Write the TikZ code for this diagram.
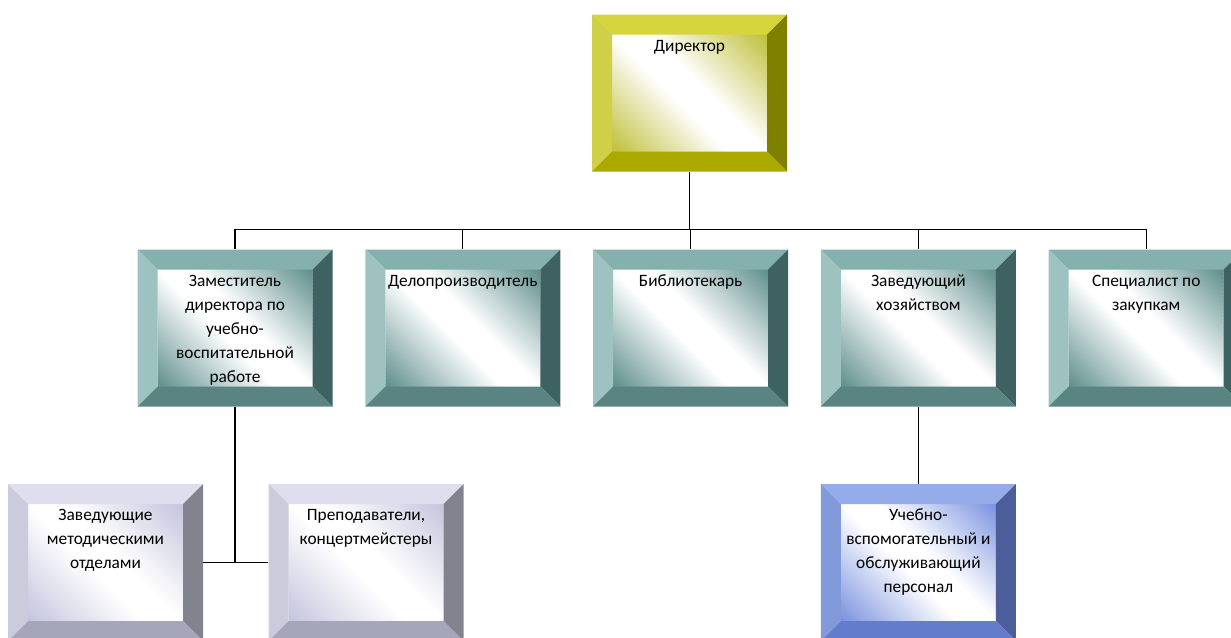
\documentclass[tikz,border=0pt]{standalone}
\usepackage{fontspec}
\setmainfont{Carlito}
\usetikzlibrary{positioning}

\definecolor{dirtop}{HTML}{D6D63C}
\definecolor{dirleft}{HTML}{CFCF48}
\definecolor{dirright}{HTML}{7F7F00}
\definecolor{dirbottom}{HTML}{A9A900}
\definecolor{dirtint}{HTML}{BFBF3A}
\definecolor{tealtop}{HTML}{84B0AE}
\definecolor{tealleft}{HTML}{9DC2C0}
\definecolor{tealright}{HTML}{3E6262}
\definecolor{tealbottom}{HTML}{5A8482}
\definecolor{tealtint}{HTML}{5E8E8C}
\definecolor{graytop}{HTML}{DEDEEE}
\definecolor{grayleft}{HTML}{CBCBDC}
\definecolor{grayright}{HTML}{83838F}
\definecolor{graybottom}{HTML}{A6A6BA}
\definecolor{graytint}{HTML}{C4C4DE}
\definecolor{bluetop}{HTML}{94ACEA}
\definecolor{blueleft}{HTML}{8299DA}
\definecolor{blueright}{HTML}{4B5E9A}
\definecolor{bluebottom}{HTML}{637CCB}
\definecolor{bluetint}{HTML}{7A92E0}

\newcommand{\boxtext}[1]{\parbox[t][87.75pt][t]{116.25pt}{\centering\strut #1}}

\tikzset{
    bevel/.style n args={5}{
        fill=white,
        path picture={
        \coordinate (nw) at (path picture bounding box.north west);
        \coordinate (ne) at (path picture bounding box.north east);
        \coordinate (sw) at (path picture bounding box.south west);
        \coordinate (se) at (path picture bounding box.south east);
        \coordinate (inw) at ([shift={(15pt,-15pt)}]nw);
        \coordinate (ine) at ([shift={(-15pt,-15pt)}]ne);
        \coordinate (isw) at ([shift={(15pt,15pt)}]sw);
        \coordinate (ise) at ([shift={(-15pt,15pt)}]se);
        \begin{scope}
            \clip (inw) rectangle (ise);
            \foreach \k in {0,...,74} {
                \pgfmathsetmacro\sa{-75+2*\k}
                \pgfmathsetmacro\pc{max(0,(abs(\sa+1)-10)/62)*100}
                \fill[#5!\pc!white] (path picture bounding box.center) ++(45:\sa pt) ++(135:90pt)
                    -- ++(45:2.4pt) -- ++(-45:180pt) -- ++(225:2.4pt) -- cycle;
            }
        \end{scope}
        \fill[#1] (nw) -- (ne) -- (ine) -- (inw) -- cycle;
        \fill[#2] (nw) -- (inw) -- (isw) -- (sw) -- cycle;
        \fill[#3] (ne) -- (se) -- (ise) -- (ine) -- cycle;
        \fill[#4] (sw) -- (isw) -- (ise) -- (se) -- cycle;
    }}
}

\begin{document}
\begin{tikzpicture}[
    x=0.75pt, y=-0.75pt,
    box/.style={rectangle, inner sep=15pt, minimum width=146.25pt, minimum height=117.75pt,
        font=\fontsize{13}{18}\selectfont},
    dirbox/.style={bevel={dirtop}{dirleft}{dirright}{dirbottom}{dirtint}},
    tealbox/.style={bevel={tealtop}{tealleft}{tealright}{tealbottom}{tealtint}},
    graybox/.style={bevel={graytop}{grayleft}{grayright}{graybottom}{graytint}},
    bluebox/.style={bevel={bluetop}{blueleft}{blueright}{bluebottom}{bluetint}},
    line/.style={draw, black, line width=1pt}
]
    \useasboundingbox (0,0) rectangle (1231,637);

    \node[box, dirbox] (dir) at (689.5,93) {\boxtext{Директор}};

    \node[box, tealbox] (zam) at (235,328) {\boxtext{Заместитель\\директора по\\учебно-\\воспитательной\\работе}};
    \node[box, tealbox, right=24.2pt of zam] (delo) {\boxtext{Делопроизводитель}};
    \node[box, tealbox, right=24.2pt of delo] (bib) {\boxtext{Библиотекарь}};
    \node[box, tealbox, right=24.2pt of bib] (hoz) {\boxtext{Заведующий\\хозяйством}};
    \node[box, tealbox, right=24.2pt of hoz] (spec) {\boxtext{Специалист по\\закупкам}};

    \node[box, graybox] (metod) at (105.5,562.5) {\boxtext{Заведующие\\методическими\\отделами}};
    \node[box, graybox, right=48.75pt of metod] (prep) {\boxtext{Преподаватели,\\концертмейстеры}};
    \node[box, bluebox, below=57.75pt of hoz] (pers) {\boxtext{Учебно-\\вспомогательный и\\обслуживающий\\персонал}};

    \path (dir.south) ++(0,57.5) coordinate (bus);
    \draw[line] (dir.south) -- (bus);
    \draw[line] (zam.north) |- (bus) -| (spec.north);
    \foreach \n in {delo,bib,hoz}
        \draw[line] (\n.north) -- (\n.north |- bus);

    \draw[line] (zam.south) -- (zam.south |- metod.east);
    \draw[line] (metod.east) -- (prep.west);
    \draw[line] (hoz.south) -- (pers.north);
\end{tikzpicture}
\end{document}
